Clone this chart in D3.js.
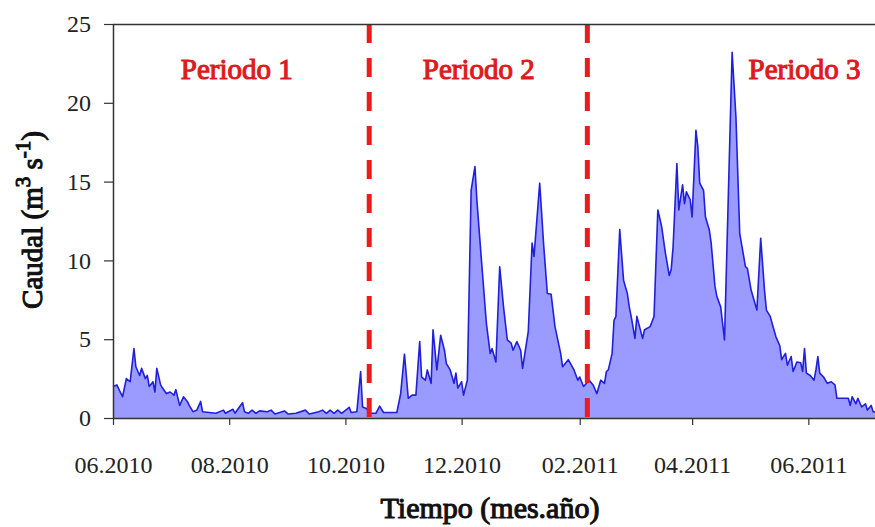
<!DOCTYPE html>
<html>
<head>
<meta charset="utf-8">
<script src="https://cdn.jsdelivr.net/npm/d3@7"></script>
<style>
	body { margin: 0; background: #fff; }
	svg { display: block; font-family: "Liberation Serif", serif; }
</style>
</head>
<body>
<div id="chart"></div>
<script>
// dias desde 01.06.2010 y caudal (m3/s)
const dias = [0, 2, 5, 7, 9, 11, 12, 14, 15, 17, 18, 19, 21, 22, 23, 25, 26, 28, 30, 32, 33, 35, 37, 39, 40, 42, 44, 46, 47,
	54, 58, 59, 63, 64, 68, 69, 71, 73, 75, 77, 81, 83, 85, 90, 92, 96, 101, 103, 108, 110, 112, 114, 116, 118, 120,
	124, 125, 128, 130, 131, 133, 135, 138, 140, 142, 149, 151,
	153, 155, 157, 159, 161, 162, 164, 165, 167, 168, 170, 172, 174, 175, 177, 179, 180, 181, 183, 184, 186,
	188, 190, 191, 193, 196, 198, 199, 201, 203, 205, 207, 209, 210, 212, 214, 215, 218, 220, 221, 224, 226, 228,
	230, 232, 235, 236, 239, 242, 244, 245, 247, 250, 252, 254, 256, 258, 259, 260, 262, 263, 264, 266, 268, 270,
	271, 272, 274, 275, 278, 279, 282, 284, 286, 288, 290, 292, 293, 294, 296, 297, 299, 300, 301, 303, 304, 306,
	307, 308, 310, 311, 313, 314, 316, 317, 319, 321, 325, 327, 329, 332, 333, 335, 338, 340, 342, 343, 345, 346,
	348, 350, 351, 353, 354, 356, 357, 359, 361, 362, 363, 364, 366, 368, 369, 370, 371, 373, 375, 377, 379, 380,
	386, 387, 388, 390, 391, 393, 395, 396, 398, 399, 400];
const caudal = [2.0, 2.1, 1.35, 2.5, 2.3, 4.4, 3.25, 2.7, 3.15, 2.5, 2.7, 2.0, 2.3, 1.65, 3.15, 2.1, 1.9, 1.55, 1.65, 1.45, 1.8, 0.8, 1.35, 1.05, 0.8, 0.4, 0.5, 1.05, 0.4,
	0.3, 0.5, 0.3, 0.55, 0.3, 0.97, 0.4, 0.3, 0.5, 0.3, 0.45, 0.4, 0.5, 0.25, 0.45, 0.25, 0.3, 0.5, 0.25, 0.4, 0.5, 0.3, 0.5, 0.3, 0.5, 0.3,
	0.68, 0.35, 0.4, 2.95, 0.7, 0.6, 0.3, 0.3, 0.75, 0.35, 0.35, 1.55,
	4.05, 1.25, 1.45, 1.45, 4.85, 2.6, 2.4, 3.05, 2.2, 5.6, 3.05, 5.25, 4.3, 3.45, 3.05, 2.2, 2.85, 1.9, 2.3, 1.45, 2.4,
	14.45, 15.95, 13.85, 10.65, 6.0, 4.1, 4.4, 3.55, 9.6, 7.05, 4.95, 4.75, 4.3, 4.85, 4.3, 3.15, 5.5, 11.1, 10.25, 14.9, 11.1, 7.9,
	7.85, 5.8, 4.1, 3.25, 3.7, 3.05, 2.4, 2.6, 2.0, 2.4, 2.1, 1.55, 2.4, 2.2, 2.95, 3.05, 4.1, 6.2, 6.45, 11.95, 8.75, 7.9,
	7.05, 6.45, 5.05, 6.45, 5.05, 5.6, 5.8, 6.45, 13.2, 12.15, 10.45, 9.05, 9.4, 10.85, 16.15, 13.2, 14.8, 13.6, 14.35, 13.85, 12.75, 18.25,
	17.2, 14.9, 14.45, 12.75, 11.95, 11.1, 8.35, 7.7, 7.05, 4.95, 23.2, 19.1, 11.7, 9.6, 9.5, 8.1, 6.85, 11.4, 8.1, 6.85, 6.45, 6.0,
	5.15, 4.6, 3.7, 4.1, 3.35, 3.9, 2.95, 3.55, 3.5, 2.95, 4.4, 2.85, 2.7, 2.4, 3.05, 3.9, 2.85, 2.6, 2.2, 2.3, 2.1, 1.25,
	1.25, 0.8, 1.35, 0.9, 1.25, 0.7, 0.9, 0.5, 0.8, 0.4, 0.4];

const limitesPeriodo = [134.5, 249];            // dias de corte entre periodos
const periodos = ["Periodo 1", "Periodo 2", "Periodo 3"];
const diaEtiqueta = [65, 192, 363];             // dia central de cada etiqueta
const yTicks = [0, 5, 10, 15, 20, 25];
const xTickMeses = ["2010-06-01", "2010-08-01", "2010-10-01", "2010-12-01", "2011-02-01", "2011-04-01", "2011-06-01"];

const inicio = new Date(2010, 5, 1);
const diaAFecha = d => d3.timeHour.offset(inicio, Math.round(d * 24));
const parse = d3.timeParse("%Y-%m-%d");

const margin = { top: 24, right: 0, bottom: 109, left: 113 };
const W = 875, H = 527;
const width = W - margin.left - margin.right;
const height = H - margin.top - margin.bottom;

const svg = d3.select("#chart").append("svg")
	.attr("width", W)
	.attr("height", H);

const g = svg.append("g")
	.attr("transform", `translate(${margin.left},${margin.top})`);

const x = d3.scaleTime()
	.domain([inicio, diaAFecha(400)])
	.range([0, width]);

const y = d3.scaleLinear()
	.domain([0, 25])
	.range([height, 0]);

const data = dias.map((d, i) => ({ fecha: diaAFecha(d), q: caudal[i] }));

g.append("path")
	.datum(data)
	.attr("fill", "#9a9aff")
	.attr("d", d3.area().x(d => x(d.fecha)).y0(y(0)).y1(d => y(d.q)));

g.append("path")
	.datum(data)
	.attr("fill", "none")
	.attr("stroke", "#1f1fdc")
	.attr("stroke-width", 1.6)
	.attr("stroke-linejoin", "round")
	.attr("d", d3.line().x(d => x(d.fecha)).y(d => y(d.q)));

// lineas de corte
limitesPeriodo.forEach(d => {
	const xp = x(diaAFecha(d));
	g.append("line")
		.attr("x1", xp).attr("x2", xp)
		.attr("y1", 0).attr("y2", height)
		.attr("stroke", "#ea1c1c")
		.attr("stroke-width", 5)
		.attr("stroke-dasharray", "19,15");
});

// marco superior
g.append("line")
	.attr("x1", 0).attr("x2", width)
	.attr("y1", 0.5).attr("y2", 0.5)
	.attr("stroke", "#333")
	.attr("stroke-width", 1.5);

const xAxis = g.append("g")
	.attr("transform", `translate(0,${height})`)
	.call(d3.axisBottom(x)
		.tickValues(xTickMeses.map(parse))
		.tickFormat(d3.timeFormat("%m.%Y"))
		.tickSize(7)
		.tickSizeOuter(0));
xAxis.select(".domain").attr("stroke", "#333").attr("stroke-width", 1.5);
xAxis.selectAll(".tick line").attr("stroke", "#333").attr("stroke-width", 1.2);
xAxis.selectAll(".tick text")
	.attr("y", 55)
	.attr("dy", 0)
	.style("font-family", "Liberation Serif, serif")
	.style("font-size", "24px")
	.attr("fill", "#222");

const yAxis = g.append("g")
	.call(d3.axisLeft(y)
		.tickValues(yTicks)
		.tickSize(9)
		.tickSizeOuter(0));
yAxis.select(".domain").attr("stroke", "#333").attr("stroke-width", 1.5);
yAxis.selectAll(".tick line").attr("stroke", "#333").attr("stroke-width", 1.2);
yAxis.selectAll(".tick text")
	.attr("x", -22)
	.style("font-family", "Liberation Serif, serif")
	.style("font-size", "24px")
	.attr("fill", "#222");

// negrita simulada con trazo (serif)
function negrita(sel, color) {
	return sel.style("font-family", "Liberation Serif, serif")
		.style("font-weight", "normal")
		.attr("fill", color)
		.attr("stroke", color)
		.attr("stroke-width", 1.1)
		.attr("paint-order", "stroke");
}

// etiquetas de periodo
g.selectAll(".periodo")
	.data(periodos)
	.enter().append("text")
	.attr("class", "periodo")
	.attr("x", (d, i) => x(diaAFecha(diaEtiqueta[i])))
	.attr("y", 55)
	.attr("text-anchor", "middle")
	.style("font-size", "29px")
	.text(d => d)
	.call(negrita, "#e0191e");

// titulos de ejes
svg.append("text")
	.attr("x", margin.left + 377)
	.attr("y", 518)
	.attr("text-anchor", "middle")
	.style("font-size", "30px")
	.text("Tiempo (mes.año)")
	.call(negrita, "#111");

const yLab = svg.append("text")
	.attr("transform", "translate(42,220) rotate(-90)")
	.attr("text-anchor", "middle")
	.style("font-size", "29px")
	.call(negrita, "#111");
yLab.append("tspan").text("Caudal (m");
yLab.append("tspan").attr("dy", -12).style("font-size", "21px").text("3");
yLab.append("tspan").attr("dy", 12).text(" s");
yLab.append("tspan").attr("dy", -12).style("font-size", "21px").text("-1");
yLab.append("tspan").attr("dy", 12).text(")");
</script>
</body>
</html>
